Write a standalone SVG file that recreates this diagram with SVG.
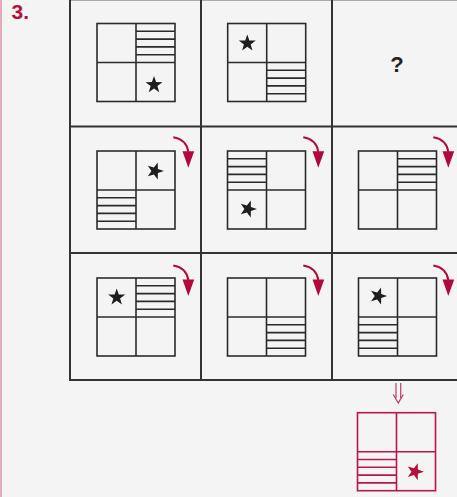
<svg xmlns="http://www.w3.org/2000/svg" width="457" height="497" viewBox="0 0 457 497">
<style>
.grid{stroke:#333;stroke-width:2;fill:none}
.sq{fill:none;stroke:#2b2b2b;stroke-width:1.6}
.arr{fill:none;stroke:#b0093c;stroke-width:2}
.arrh{fill:#b0093c}
.lbl{font-family:"Liberation Sans",Arial,sans-serif;font-weight:bold}
</style>
<defs>
<path id="star" d="M0,-8.9 L2.09,-2.88 L8.46,-2.75 L3.39,1.1 L5.23,7.2 L0,3.56 L-5.23,7.2 L-3.39,1.1 L-8.46,-2.75 L-2.09,-2.88Z"/>
<g id="frame" class="sq"><rect x="0" y="0" width="78" height="78"/><line x1="39" y1="0" x2="39" y2="78"/><line x1="0" y1="39" x2="78" y2="39"/></g>
<g id="hatch" class="sq"><line x1="0" y1="7.8" x2="39" y2="7.8"/><line x1="0" y1="15.6" x2="39" y2="15.6"/><line x1="0" y1="23.4" x2="39" y2="23.4"/><line x1="0" y1="31.2" x2="39" y2="31.2"/></g>
<g id="rot"><path class="arr" d="M0,0 Q13,2 15,14.5"/><path class="arrh" d="M9.2,14 L20.9,14 L15,30.5Z"/></g>
</defs>
<rect width="457" height="497" fill="#f4f4f4"/>
<line x1="1" y1="0" x2="1" y2="497" stroke="#df98ad" stroke-width="1.6"/>
<text class="lbl" x="11.5" y="18.5" font-size="21" fill="#b3103f">3.</text>
<g id="grid">
<line x1="70" y1="0.5" x2="457" y2="0.5" stroke="#aaa" stroke-width="1"/>
<line class="grid" x1="70" y1="0" x2="70" y2="381"/>
<line class="grid" x1="201" y1="0" x2="201" y2="381"/>
<line class="grid" x1="332" y1="0" x2="332" y2="381"/>
<line class="grid" x1="70" y1="126.5" x2="457" y2="126.5"/>
<line class="grid" x1="70" y1="253" x2="457" y2="253"/>
<line class="grid" x1="69" y1="380" x2="457" y2="380"/>
</g>
<g id="r1c1" transform="translate(97,23.5)"><use href="#frame"/><use href="#hatch" x="39" y="0"/><use href="#star" x="57" y="61.5" fill="#1e1e1e"/></g>
<g id="r1c2" transform="translate(227.7,23.5)"><use href="#frame"/><use href="#hatch" x="39" y="39"/><use href="#star" x="19.6" y="19.8" fill="#1e1e1e"/></g>
<g id="r1c3"><text class="lbl" x="397" y="72" font-size="22" text-anchor="middle" fill="#222">?</text></g>
<g id="r2c1" transform="translate(97,151)"><use href="#frame"/><use href="#hatch" x="0" y="39"/><use href="#star" transform="translate(58,20) rotate(18)" fill="#1e1e1e"/></g>
<g id="r2c2" transform="translate(227.5,151)"><use href="#frame"/><use href="#hatch" x="0" y="0"/><use href="#star" transform="translate(20.5,58) rotate(18)" fill="#1e1e1e"/></g>
<g id="r2c3" transform="translate(358.5,151)"><use href="#frame"/><use href="#hatch" x="39" y="0"/></g>
<g id="r3c1" transform="translate(97,278)"><use href="#frame"/><use href="#hatch" x="39" y="0"/><use href="#star" x="19.7" y="19.3" fill="#1e1e1e"/></g>
<g id="r3c2" transform="translate(227.5,278)"><use href="#frame"/><use href="#hatch" x="39" y="39"/></g>
<g id="r3c3" transform="translate(358.5,278)"><use href="#frame"/><use href="#hatch" x="0" y="39"/><use href="#star" transform="translate(19.8,18) rotate(18)" fill="#1e1e1e"/></g>
<g id="rotations">
<use href="#rot" x="173.3" y="137.3"/>
<use href="#rot" x="303.3" y="137.3"/>
<use href="#rot" x="433.3" y="137.3"/>
<use href="#rot" x="173.3" y="265.5"/>
<use href="#rot" x="303.3" y="265.5"/>
<use href="#rot" x="433.3" y="265.5"/>
</g>
<g id="implies" fill="none" stroke="#c0386a" stroke-width="1.2">
<line x1="396" y1="383" x2="396" y2="398"/>
<line x1="400.7" y1="383" x2="400.7" y2="398"/>
<path d="M393.3,394.5 L398.3,403 L403.3,394.5"/>
</g>
<g id="answer" transform="translate(357.5,412.7)">
<g stroke="#b8174c" stroke-width="1.6" fill="none"><rect x="0" y="0" width="78" height="78"/><line x1="39" y1="0" x2="39" y2="78"/><line x1="0" y1="39" x2="78" y2="39"/>
<line x1="0" y1="46.8" x2="39" y2="46.8"/><line x1="0" y1="54.6" x2="39" y2="54.6"/><line x1="0" y1="62.4" x2="39" y2="62.4"/><line x1="0" y1="70.2" x2="39" y2="70.2"/></g>
<use href="#star" transform="translate(57.5,59) rotate(18)" fill="#b3103f"/>
</g>
</svg>
